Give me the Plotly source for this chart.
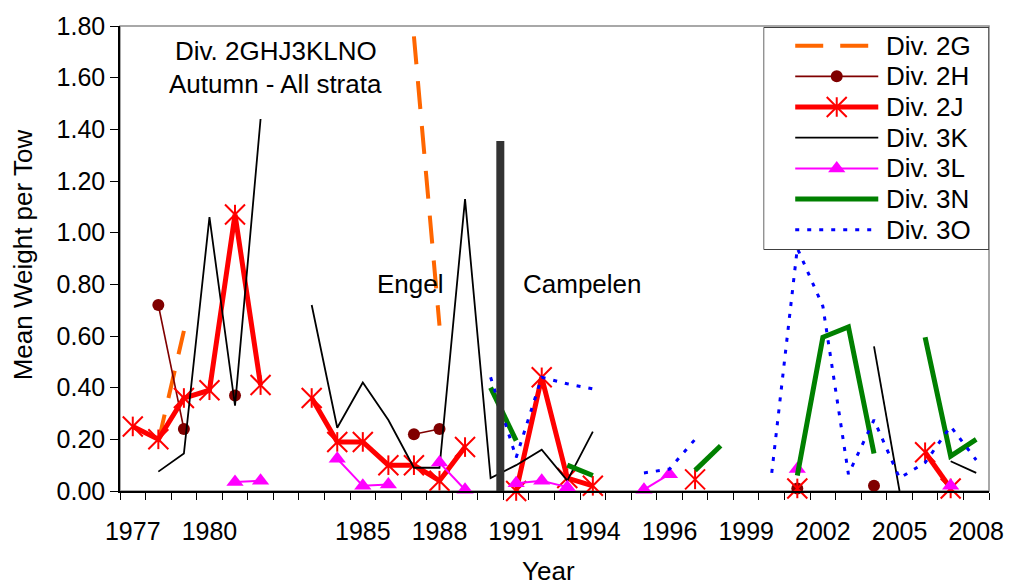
import plotly.graph_objects as go

# ---------------- data ----------------
N = None
# category axis (Excel-style): blank categories separate survey blocks
categories = (["1977", "1978", "1979", "1980", "1981", "1982"] + [""] +
              ["1983", "1984", "1985", "1986", "1987", "1988", "1989", "1990",
               "1991", "1992", "1993", "1994"] + [""] +
              ["1995", "1996", "1997", "1998", "1999", "2000", "2001", "2002",
               "2003", "2004", "2005", "2006", "2007", "2008"])

div_2G = ([N, 0.19, 0.62, N, N, N] + [N] +
          [N, N, N, N, 1.76, 0.64, N, N, N, N, N, N] + [N] +
          [N, N, N, N, N, N, N, N, N, N, N, N, N, N])
div_2H = ([N, 0.72, 0.24, N, 0.37, N] + [N] +
          [N, N, N, N, 0.22, 0.24, N, N, N, N, N, N] + [N] +
          [N, N, N, N, N, N, 0.01, N, N, 0.02, N, N, N, N])
div_2J = ([0.25, 0.20, 0.36, 0.39, 1.07, 0.41] + [N] +
          [0.36, 0.19, 0.19, 0.10, 0.10, 0.04, 0.17, N, 0.00, 0.44, 0.05, 0.02] + [N] +
          [N, N, 0.045, N, N, N, 0.01, N, N, N, N, 0.15, 0.01, N])
div_3K = ([N, 0.075, 0.145, 1.06, 0.33, 1.44] + [N] +
          [0.72, 0.245, 0.42, 0.275, 0.09, 0.09, 1.13, 0.05, 0.10, 0.16, 0.04, 0.23] + [N] +
          [N, N, N, N, N, N, N, N, N, 0.56, 0.0, N, 0.115, 0.07])
div_3L = ([N, N, N, N, 0.035, 0.04] + [N] +
          [N, 0.125, 0.02, 0.025, N, 0.11, 0.005, N, 0.03, 0.04, 0.015, N] + [N] +
          [0.005, 0.065, N, N, N, N, 0.085, N, N, N, N, N, 0.02, N])
div_3N = ([N, N, N, N, N, N] + [N] +
          [N, N, N, N, N, N, N, 0.40, 0.195, N, 0.10, 0.06] + [N] +
          [N, N, 0.08, 0.175, N, N, 0.06, 0.595, 0.635, 0.145, N, 0.595, 0.135, 0.20])
div_3O = ([N, N, N, N, N, N] + [N] +
          [N, N, N, N, N, N, N, 0.44, 0.13, 0.44, 0.415, 0.395] + [N] +
          [0.07, 0.085, 0.20, N, N, 0.07, 0.94, 0.715, 0.065, 0.275, 0.05, 0.11, 0.25, 0.12])

y_ticks = [0.0, 0.2, 0.4, 0.6, 0.8, 1.0, 1.2, 1.4, 1.6, 1.8]
x_label_every = 3
split_position = 14.38      # Engel / Campelen separator (category units)
split_top = 1.355

# ---------------- styles ----------------
FONT = "Liberation Sans, Arial, sans-serif"
FS_TICK = 25
FS = 26
x = list(range(len(categories)))

star_x = dict(symbol="x-thin-open", size=20, color="#FF0000", line=dict(width=2, color="#FF0000"))
star_v = dict(symbol="line-ns-open", size=14, color="#FF0000", line=dict(width=2, color="#FF0000"))

series = [
    dict(name="Div. 2G", y=div_2G, line=dict(color="#FF6600", width=4, dash="28px,17px"), markers=[]),
    dict(name="Div. 2H", y=div_2H, line=dict(color="#800000", width=1.6),
         markers=[dict(symbol="circle", size=12, color="#800000")]),
    dict(name="Div. 2J", y=div_2J, line=dict(color="#FF0000", width=5), markers=[star_x, star_v]),
    dict(name="Div. 3K", y=div_3K, line=dict(color="#000000", width=1.8), markers=[]),
    dict(name="Div. 3L", y=div_3L, line=dict(color="#FF00FF", width=2),
         markers=[dict(symbol="triangle-up", size=15, color="#FF00FF")]),
    dict(name="Div. 3N", y=div_3N, line=dict(color="#008000", width=5), markers=[]),
    dict(name="Div. 3O", y=div_3O, line=dict(color="#0000FF", width=3, dash="4px,8px"), markers=[]),
]

fig = go.Figure()

# main series
for s in series:
    fig.add_trace(go.Scatter(x=x, y=s["y"], mode="lines", line=s["line"],
                             connectgaps=False, cliponaxis=False, showlegend=False,
                             hoverinfo="skip"))
    for m in s["markers"]:
        fig.add_trace(go.Scatter(x=x, y=s["y"], mode="markers", marker=m,
                                 cliponaxis=False, showlegend=False, name=s["name"]))

# custom legend drawn on an inset axis (units ~ pixels)
LEG_W, LEG_H = 228, 224
row0, row_step = 18.5, 30.9
for i, s in enumerate(series):
    ry = row0 + i * row_step
    fig.add_trace(go.Scatter(x=[32, 116], y=[ry, ry], mode="lines", line=s["line"],
                             xaxis="x3", yaxis="y3", showlegend=False, hoverinfo="skip"))
    for m in s["markers"]:
        fig.add_trace(go.Scatter(x=[74], y=[ry], mode="markers", marker=m,
                                 xaxis="x3", yaxis="y3", showlegend=False, hoverinfo="skip"))
    fig.add_annotation(x=122, y=ry, xref="x3", yref="y3", text=s["name"], showarrow=False,
                       xanchor="left", yanchor="middle", font=dict(family=FONT, size=FS, color="black"))

fig.add_shape(type="rect", xref="x3", yref="y3", x0=0, x1=LEG_W, y0=0, y1=LEG_H,
              line=dict(color="black", width=1.2), fillcolor="white", layer="below")

# plot frame (gray top/right)
fig.add_shape(type="rect", xref="paper", yref="paper", x0=0, x1=1, y0=0, y1=1,
              line=dict(color="#8c8c8c", width=1.5), layer="below")

# Engel / Campelen separator
fig.add_shape(type="line", xref="x", yref="y", x0=split_position, x1=split_position,
              y0=-0.03, y1=split_top, line=dict(color="#333333", width=8), layer="above")

# text annotations
txt = dict(family=FONT, size=FS, color="black")
fig.add_annotation(x=5.6, y=1.705, xref="x", yref="y", text="Div. 2GHJ3KLNO",
                   showarrow=False, font=txt)
fig.add_annotation(x=5.6, y=1.575, xref="x", yref="y", text="Autumn - All strata",
                   showarrow=False, font=txt)
fig.add_annotation(x=10.87, y=0.80, xref="x", yref="y", text="Engel", showarrow=False, font=txt)
fig.add_annotation(x=17.6, y=0.80, xref="x", yref="y", text="Campelen", showarrow=False, font=txt)
# axis titles
fig.add_annotation(x=0.4926, y=-0.171, xref="paper", yref="paper", text="Year",
                   showarrow=False, font=txt, xanchor="center", yanchor="middle")
fig.add_annotation(x=-0.1115, y=0.507, xref="paper", yref="paper", text="Mean Weight per Tow",
                   showarrow=False, font=txt, textangle=-90, xanchor="center", yanchor="middle")

fig.update_layout(
    width=1016, height=585,
    margin=dict(l=120, r=17, t=23, b=94),
    paper_bgcolor="white", plot_bgcolor="white",
    font=dict(family=FONT, size=FS, color="black"),
    showlegend=False,
    xaxis=dict(range=[-0.5, len(categories) - 0.5],
               tickmode="array",
               tickvals=x[::x_label_every],
               ticktext=categories[::x_label_every],
               ticks="", ticklabelstandoff=17,
               minor=dict(tickmode="linear", tick0=-0.5, dtick=1, ticks="outside",
                          ticklen=7, tickwidth=1.2, tickcolor="black"),
               showline=True, linecolor="black", linewidth=1.5,
               showgrid=False, zeroline=False,
               tickfont=dict(family=FONT, size=FS_TICK, color="black")),
    yaxis=dict(range=[0, 1.8], tickmode="array", tickvals=y_ticks,
               tickformat=".2f", ticks="outside", ticklen=8, tickwidth=1.2,
               tickcolor="black", ticklabelstandoff=0,
               showline=True, linecolor="black", linewidth=1.5,
               showgrid=False, zeroline=False,
               tickfont=dict(family=FONT, size=FS_TICK, color="black")),
    xaxis3=dict(domain=[0.7406, 1.0], range=[0, LEG_W], visible=False,
                anchor="y3", fixedrange=True),
    yaxis3=dict(domain=[0.5189, 0.9972], range=[LEG_H, 0], visible=False,
                anchor="x3", fixedrange=True),
)

fig.write_html("out.html")
